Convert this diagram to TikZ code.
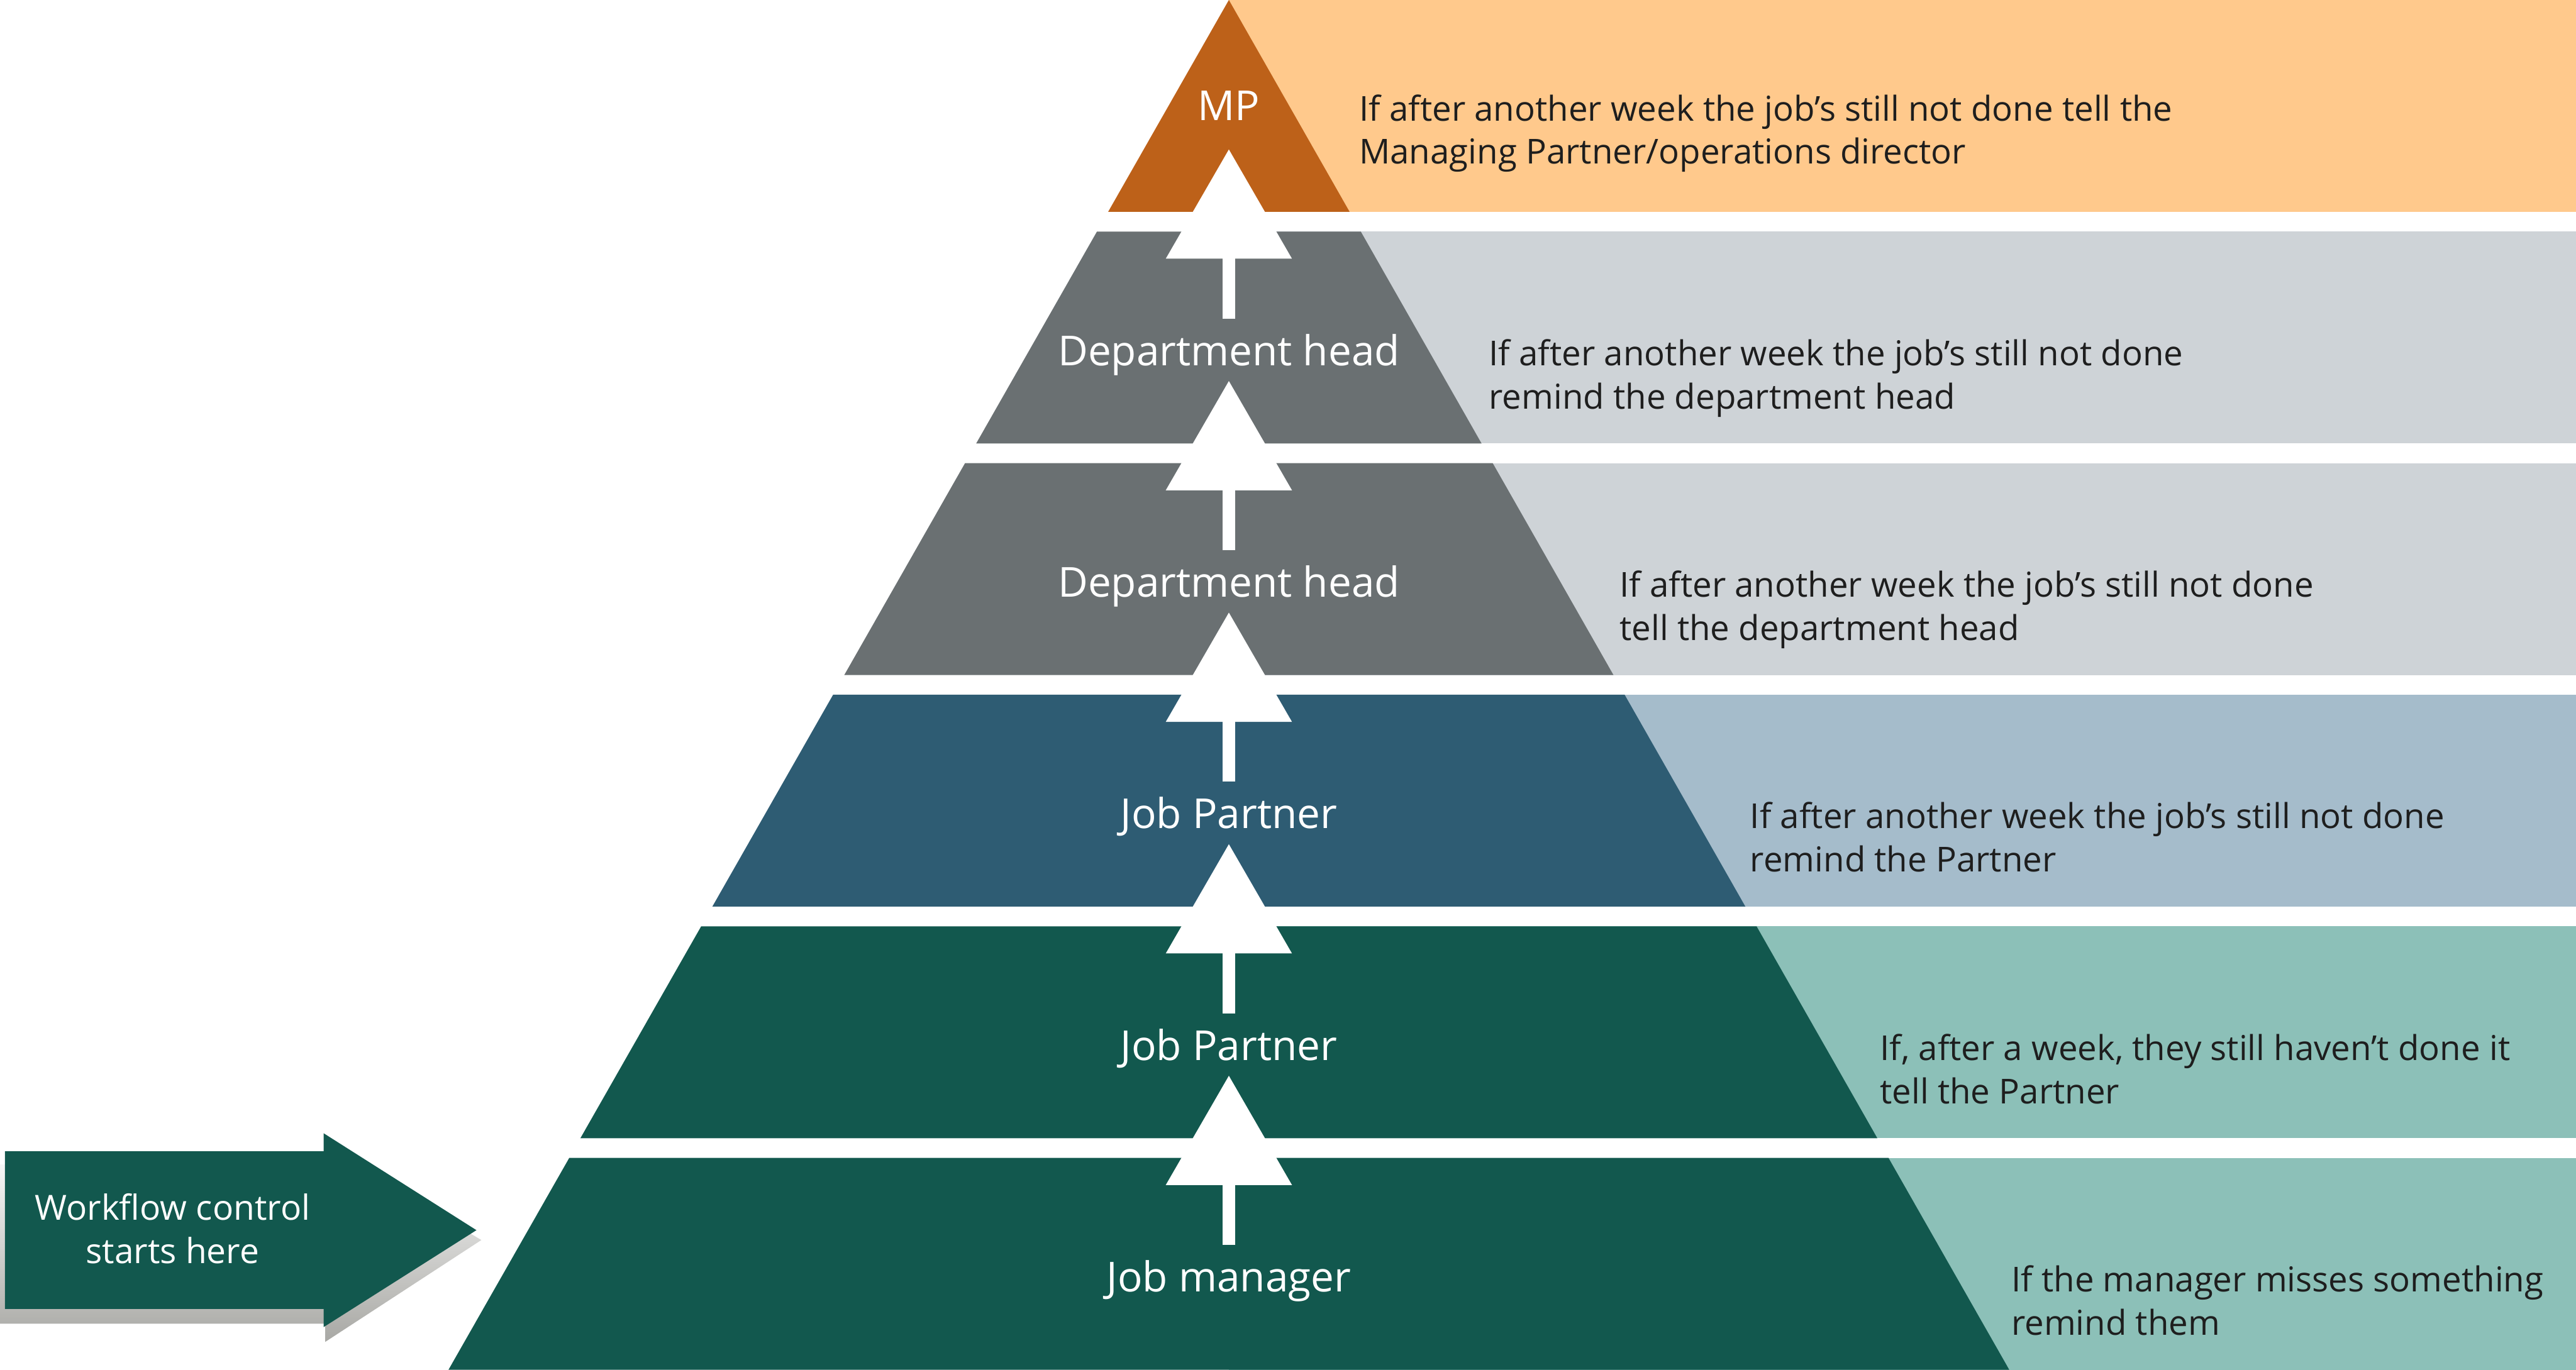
\documentclass[tikz,border=0pt]{standalone}
\usepackage{fontspec}
\setmainfont{Open Sans}
\usepackage{tikz}
\usepackage{xcolor}
\usetikzlibrary{arrows.meta}
\definecolor{mpdark}{RGB}{189,97,25}
\definecolor{mplight}{RGB}{255,201,140}
\definecolor{deptdark}{RGB}{106,112,114}
\definecolor{deptlight}{RGB}{206,211,215}
\definecolor{partnerdark}{RGB}{46,92,115}
\definecolor{partnerlight}{RGB}{165,188,203}
\definecolor{greendark}{RGB}{18,88,78}
\definecolor{greenlight}{RGB}{140,192,184}
\definecolor{notetext}{RGB}{30,30,30}
\definecolor{shadowgrey}{RGB}{168,168,164}

\begin{document}
\begin{tikzpicture}[
    x=0.2mm,y=-0.2mm,
    note/.style={anchor=base west,align=left,inner sep=0pt,text=notetext,
      font=\fontsize{11.9}{15}\selectfont},
    tierlabel/.style={anchor=base,inner sep=0pt,text=white,
      font=\fontsize{14.3}{17}\selectfont},
    starttext/.style={align=center,inner sep=0pt,text=white,
      font=\fontsize{12}{15}\selectfont},
    climb/.style={draw=white,line width=1.52mm,
      -{Triangle[width=15.36mm,length=13.3mm,line width=0pt]}}
  ]
    \useasboundingbox (0,0) rectangle (1568,834);

    % light bands behind the pyramid
    \fill[mplight] (748,0) rectangle (1568,129);
    \fill[deptlight] (748,141) rectangle (1568,270);
    \fill[deptlight] (748,282) rectangle (1568,411);
    \fill[partnerlight] (748,423) rectangle (1568,552);
    \fill[greenlight] (748,564) rectangle (1568,693);
    \fill[greenlight] (748,705) rectangle (1568,834);

    % pyramid tiers
    \fill[mpdark] (748,0) -- (821.5,129) -- (674.5,129) -- cycle;
    \fill[deptdark] (667.7,141) -- (828.3,141) -- (901.8,270) -- (594.2,270) -- cycle;
    \fill[deptdark] (587.4,282) -- (908.6,282) -- (982.1,411) -- (513.9,411) -- cycle;
    \fill[partnerdark] (507.1,423) -- (988.9,423) -- (1062.4,552) -- (433.6,552) -- cycle;
    \fill[greendark] (426.8,564) -- (1069.2,564) -- (1142.7,693) -- (353.3,693) -- cycle;
    \fill[greendark] (346.5,705) -- (1149.5,705) -- (1223,834) -- (273,834) -- cycle;

    \node[tierlabel] (mp) at (748,73.5) {MP};
    \node[tierlabel] (head2) at (748,222.5) {Department head};
    \node[tierlabel] (head1) at (748,363.5) {Department head};
    \node[tierlabel] (partner2) at (748,504.5) {Job Partner};
    \node[tierlabel] (partner1) at (748,645.5) {Job Partner};
    \node[tierlabel] (manager) at (748,786.5) {Job manager};

    % notes: base anchor sits on the second line
    \node[note] (mpnote) at (827,99.9) {If after another week the job’s still not done tell the\\Managing Partner/operations director};
    \node[note] (head2note) at (906,248.9) {If after another week the job’s still not done\\remind the department head};
    \node[note] (head1note) at (985.5,389.9) {If after another week the job’s still not done\\tell the department head};
    \node[note] (partner2note) at (1065,530.9) {If after another week the job’s still not done\\remind the Partner};
    \node[note] (partner1note) at (1144,671.9) {If, after a week, they still haven’t done it\\tell the Partner};
    \node[note] (managernote) at (1224,812.9) {If the manager misses something\\remind them};

    % escalation arrows
    \coordinate (up1a) at (748,758);
    \coordinate (up1b) at (748,655);
    \coordinate (up2a) at (748,617);
    \coordinate (up2b) at (748,514);
    \coordinate (up3a) at (748,476);
    \coordinate (up3b) at (748,373);
    \coordinate (up4a) at (748,335);
    \coordinate (up4b) at (748,232);
    \coordinate (up5a) at (748,194);
    \coordinate (up5b) at (748,91);
    \draw[climb] (up1a) -- (up1b);
    \draw[climb] (up2a) -- (up2b);
    \draw[climb] (up3a) -- (up3b);
    \draw[climb] (up4a) -- (up4b);
    \draw[climb] (up5a) -- (up5b);

    % start arrow with its shadow
    \shade[top color=white,bottom color=shadowgrey]
      (0,709) -- (197,709) -- (197,698) -- (293,755) -- (198,817) -- (198,806) -- (0,806) -- cycle;
    \fill[greendark]
      (3,701) -- (197,701) -- (197,690) -- (290,749) -- (197,808) -- (197,797) -- (3,797) -- cycle;
    \node[starttext] (start) at (105,748) {Workflow control\\starts here};
  \end{tikzpicture}
\end{document}
